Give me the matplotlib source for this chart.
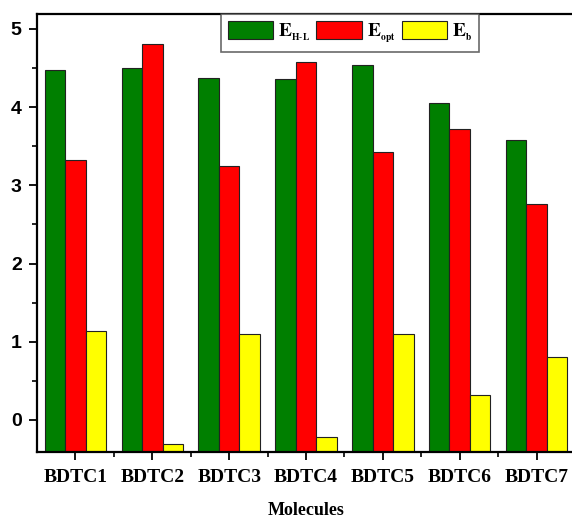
import numpy as np
import matplotlib
matplotlib.use("Agg")
import matplotlib.pyplot as plt
from matplotlib.ticker import MultipleLocator

plt.rcParams["mathtext.fontset"] = "stix"

# Data
molecules = ["BDTC1", "BDTC2", "BDTC3", "BDTC4", "BDTC5", "BDTC6", "BDTC7"]
e_hl = [4.48, 4.50, 4.37, 4.36, 4.54, 4.05, 3.58]
e_opt = [3.32, 4.81, 3.25, 4.58, 3.43, 3.72, 2.76]
e_b = [1.14, -0.31, 1.10, -0.22, 1.10, 0.32, 0.81]

ymin, ymax = -0.41, 5.19

fig = plt.figure(figsize=(5.72, 5.19), dpi=100)
ax = fig.add_axes([37 / 572, 1 - 452 / 519, 538 / 572, 438 / 519])

# bars start at the bottom of the axis, as in the original (Origin style)
x = np.arange(len(molecules))
w = 0.267
series = [
    (e_hl, -w, "#007F00", r"$\mathbf{E}_{{}_{\mathbf{H\text{-}L}}}$"),
    (e_opt, 0, "#FF0000", r"$\mathbf{E}_{{}_{\mathbf{opt}}}$"),
    (e_b, w, "#FFFF00", r"$\mathbf{E}_{{}_{\mathbf{b}}}$"),
]
for vals, off, col, lab in series:
    ax.bar(x + off, np.array(vals) - ymin, w, bottom=ymin, color=col,
           edgecolor="#222222", linewidth=0.8, label=lab)

ax.set_xlim(-0.5, 6.5)
ax.set_ylim(ymin, ymax)
ax.set_xticks(x)
ax.set_xticklabels(molecules, family="Liberation Serif", fontweight="bold", fontsize=14)
ax.set_xticks(x[:-1] + 0.5, minor=True)
ax.yaxis.set_major_locator(MultipleLocator(1))
ax.yaxis.set_minor_locator(MultipleLocator(0.5))
for lab in ax.get_yticklabels():
    lab.set_family("Liberation Sans")
    lab.set_fontweight("bold")
    lab.set_fontsize(14)

ax.tick_params(which="major", direction="out", length=6, width=1.3, pad=5)
ax.tick_params(axis="x", which="major", pad=6)
ax.tick_params(which="minor", direction="out", length=3.5, width=1.2)
for s in ax.spines.values():
    s.set_linewidth(1.6)

ax.set_xlabel("Molecules", family="Liberation Serif", fontweight="bold",
              fontsize=13, labelpad=12)

leg = ax.legend(loc="upper left", bbox_to_anchor=(0.342, 1.0), ncol=3,
                fontsize=14, frameon=True, fancybox=False, borderaxespad=0,
                handlelength=2.35, handleheight=1.1, handletextpad=0.25,
                columnspacing=0.3, borderpad=0.35)
leg.get_frame().set_edgecolor("#444444")
leg.get_frame().set_linewidth(1.2)

fig.savefig("out.png", dpi=100)
